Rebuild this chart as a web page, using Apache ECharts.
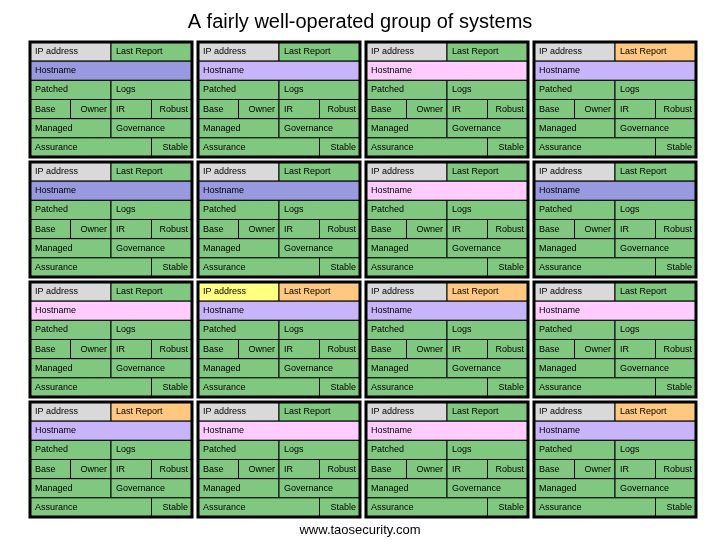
<!DOCTYPE html>
<html><head><meta charset="utf-8">
<script src="https://cdn.jsdelivr.net/npm/echarts@6/dist/echarts.min.js"></script>
<style>html,body{margin:0;padding:0;background:#fff}#c{width:720px;height:540px}</style>
</head><body><div id="c"></div>
<script>
const title = 'A fairly well-operated group of systems';
const footer = 'www.taosecurity.com';
const palette = {gray:'#d9d9d9', green:'#80c880', blue:'#9999e0', lav:'#c8b4f8', pink:'#ffccff', orange:'#ffc880', yellow:'#ffff80'};
// card positions (column, row)
const cardCols = [0,1,2,3, 0,1,2,3, 0,1,2,3, 0,1,2,3];
const cardRows = [0,0,0,0, 1,1,1,1, 2,2,2,2, 3,3,3,3];
const ipStatus = ['gray','gray','gray','gray', 'gray','gray','gray','gray', 'gray','yellow','gray','gray', 'gray','gray','gray','gray'];
const reportStatus = ['green','green','green','orange', 'green','green','green','green', 'green','orange','orange','green', 'orange','green','green','orange'];
const hostStatus = ['blue','lav','pink','lav', 'blue','blue','pink','blue', 'pink','lav','lav','pink', 'lav','pink','pink','lav'];
// card cell layout: [row, startFrac, endFrac, label, align]
const cells = [
 [0,0,0.5,'IP address','left'],[0,0.5,1,'Last Report','left'],
 [1,0,1,'Hostname','left'],
 [2,0,0.5,'Patched','left'],[2,0.5,1,'Logs','left'],
 [3,0,0.25,'Base','left'],[3,0.25,0.5,'Owner','right'],[3,0.5,0.75,'IR','left'],[3,0.75,1,'Robust','right'],
 [4,0,0.5,'Managed','left'],[4,0.5,1,'Governance','left'],
 [5,0,0.75,'Assurance','left'],[5,0.75,1,'Stable','right']
];
const data = cardCols.map((c,i)=>[c,cardRows[i],i]);
const chart = echarts.init(document.getElementById('c'));
chart.setOption({
 animation:false,
 title:[{text:title,left:'center',top:7,textStyle:{fontFamily:'Liberation Sans',fontSize:20,fontWeight:'normal',color:'#000'}},
        {text:footer,left:'center',top:519,textStyle:{fontFamily:'Liberation Sans',fontSize:13,fontWeight:'normal',color:'#000'}}],
 grid:{left:30,right:18,top:42,bottom:18},
 xAxis:{type:'value',min:0,max:4,show:false},
 yAxis:{type:'value',min:0,max:4,inverse:true,show:false},
 series:[{type:'custom',data:data,renderItem:function(params,api){
   const c=api.value(0), r=api.value(1), i=api.value(2);
   const p0=api.coord([c,r]), p1=api.coord([c+1,r+1]);
   const x0=p0[0], y0=p0[1], w=p1[0]-p0[0]-6, h=p1[1]-p0[1]-5;
   const rh=h/6;
   const kids=[];
   cells.forEach((cl,k)=>{
     let fill=palette.green;
     if(k===0) fill=palette[ipStatus[i]];
     else if(k===1) fill=palette[reportStatus[i]];
     else if(k===2) fill=palette[hostStatus[i]];
     const cx=x0+cl[1]*w, cw=(cl[2]-cl[1])*w, cy=y0+cl[0]*rh;
     kids.push({type:'rect',shape:{x:cx,y:cy,width:cw,height:rh},style:{fill:fill,stroke:'#000',lineWidth:1}});
     kids.push({type:'text',style:{text:cl[3],x:cl[4]==='left'?cx+5:cx+cw-4,y:cy+rh/2,align:cl[4],verticalAlign:'middle',font:'9px "Liberation Sans"',fill:'#000'}});
   });
   kids.push({type:'rect',shape:{x:x0,y:y0,width:w,height:h},style:{fill:null,stroke:'#000',lineWidth:3}});
   return {type:'group',children:kids};
 }}]
});
</script></body></html>
